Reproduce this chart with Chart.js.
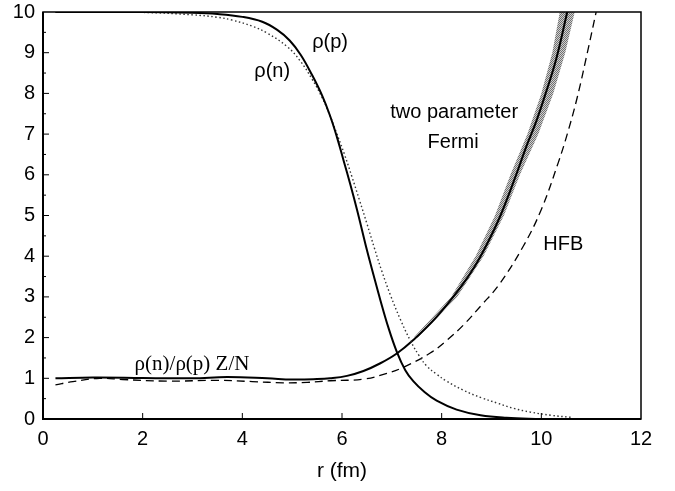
<!DOCTYPE html>
<html>
<head>
<meta charset="utf-8">
<script src="https://cdn.jsdelivr.net/npm/chart.js@4"></script>
<style>
  html, body { margin: 0; padding: 0; background: #fff; }
  #wrap { width: 675px; height: 491px; }
</style>
</head>
<body>
<div id="wrap"><canvas id="chart-density"></canvas></div>
<script>
// density of protons, rho(p)
const protonR   = [0.25, 2, 3, 3.5, 4, 4.4, 4.7, 4.95, 5.17, 5.4, 5.6, 5.76, 5.9, 6.03, 6.17, 6.3, 6.4, 6.5, 6.63, 6.77, 6.93, 7.1, 7.27, 7.43, 7.65, 7.9, 8.3, 8.78, 9.3, 10];
const protonRho = [10, 10, 9.98, 9.95, 9.88, 9.76, 9.56, 9.3, 8.95, 8.45, 7.95, 7.45, 6.92, 6.36, 5.75, 5.15, 4.65, 4.15, 3.55, 2.92, 2.25, 1.65, 1.2, 0.93, 0.67, 0.45, 0.23, 0.09, 0.03, 0];

// density of neutrons, rho(n)
const neutronR   = [0.25, 2, 3, 3.5, 3.8, 4.2, 4.5, 4.9, 5.16, 5.4, 5.6, 5.76, 5.9, 6.05, 6.2, 6.35, 6.5, 6.65, 6.8, 6.97, 7.17, 7.37, 7.55, 7.7, 7.9, 8.1, 8.43, 8.8, 9.12, 9.45, 9.78, 10.2, 10.6];
const neutronRho = [10, 9.99, 9.93, 9.87, 9.8, 9.65, 9.48, 9.15, 8.8, 8.35, 7.9, 7.45, 7.0, 6.5, 5.95, 5.38, 4.8, 4.2, 3.63, 3.05, 2.45, 1.93, 1.55, 1.3, 1.1, 0.93, 0.71, 0.52, 0.39, 0.26, 0.17, 0.09, 0.04];

// rho(n)/rho(p) Z/N, two parameter Fermi
const fermiR     = [0.25, 1, 2, 3, 3.7, 4.5, 5, 5.5, 5.76, 6.1, 6.43, 6.77, 7.1, 7.43, 7.9, 8.37, 8.65, 8.91, 9.18, 9.51, 9.7, 9.9, 10.1, 10.3, 10.52];
const fermiRatio = [1.0, 1.02, 1.01, 1.0, 1.03, 1.0, 0.97, 0.98, 1.0, 1.06, 1.18, 1.37, 1.61, 1.94, 2.51, 3.22, 3.72, 4.3, 5.0, 6.05, 6.7, 7.32, 8.05, 8.85, 10];

// error band of the Fermi ratio
const bandY     = [2, 3, 4, 5, 6, 7, 8, 9, 10];
const bandLeft  = [7.44, 8.19, 8.68, 9.07, 9.38, 9.72, 10.0, 10.22, 10.37];
const bandRight = [7.52, 8.31, 8.84, 9.25, 9.57, 9.94, 10.24, 10.48, 10.67];

// rho(n)/rho(p) Z/N, HFB
const hfbR     = [0.25, 0.6, 1.14, 1.6, 2.5, 3.5, 4.2, 4.82, 5.3, 5.76, 6.43, 6.9, 7.23, 7.77, 8.1, 8.43, 8.8, 9.15, 9.64, 10.0, 10.34, 10.52, 10.72, 10.95, 11.1];
const hfbRatio = [0.84, 0.92, 1.0, 0.97, 0.93, 0.95, 0.92, 0.89, 0.9, 0.94, 0.98, 1.12, 1.27, 1.62, 1.93, 2.3, 2.8, 3.3, 4.25, 5.15, 6.3, 7.0, 7.9, 9.15, 10];

const xTicks = [0, 2, 4, 6, 8, 10, 12];
const yTicks = [0, 1, 2, 3, 4, 5, 6, 7, 8, 9, 10];

// text written inside the plot: [text, r, value, font]
const notes = [
  ["\u03c1(p)", 5.76, 9.26, "sans"],
  ["\u03c1(n)", 4.6, 8.55, "sans"],
  ["two parameter", 8.25, 7.54, "sans"],
  ["Fermi", 8.23, 6.8, "sans"],
  ["HFB", 10.44, 4.28, "sans"],
  ["\u03c1(n)/\u03c1(p) Z/N", 2.99, 1.33, "serif"],
];

function pts(xs, ys) {
  return xs.map((x, i) => ({ x: x, y: ys[i] }));
}

const bandShape = pts(bandLeft, bandY).concat(pts(bandRight, bandY).reverse());

const SANS = "'Liberation Sans', Arial, sans-serif";
const SERIF = "'Liberation Serif', 'Times New Roman', serif";

// stippled grey for the error band
function stipple() {
  const c = document.createElement("canvas");
  c.width = 2;
  c.height = 2;
  const g = c.getContext("2d");
  g.fillStyle = "#d0d0d0";
  g.fillRect(0, 0, 2, 2);
  g.fillStyle = "#707070";
  g.fillRect(0, 0, 1, 1);
  g.fillRect(1, 1, 1, 1);
  return g.createPattern(c, "repeat");
}

// frame, inward tick marks and the curve labels
const framePlugin = {
  id: "frame",
  afterDraw(chart) {
    const ctx = chart.ctx;
    const a = chart.chartArea;
    const xs = chart.scales.x;
    const ys = chart.scales.y;
    ctx.save();
    ctx.strokeStyle = "#000";
    ctx.lineWidth = 1.5;
    ctx.strokeRect(a.left, a.top, a.right - a.left, a.bottom - a.top);
    ctx.lineWidth = 2;
    ctx.beginPath();
    ctx.moveTo(a.left, a.top);
    ctx.lineTo(a.left, a.bottom);
    ctx.lineTo(a.right, a.bottom);
    ctx.stroke();

    ctx.lineWidth = 1;
    ctx.beginPath();
    for (let v = 0.5; v < 10; v += 0.5) {
      const py = ys.getPixelForValue(v);
      const len = Number.isInteger(v) ? 6 : 3;
      ctx.moveTo(a.left, py);
      ctx.lineTo(a.left + len, py);
    }
    xTicks.forEach((v) => {
      if (v === 0 || v === 12) return;
      const px = xs.getPixelForValue(v);
      ctx.moveTo(px, a.bottom);
      ctx.lineTo(px, a.bottom - 6);
    });
    ctx.stroke();

    ctx.fillStyle = "#000";
    ctx.textAlign = "center";
    ctx.textBaseline = "middle";
    notes.forEach(([t, x, y, f]) => {
      ctx.font = f === "serif" ? "21px " + SERIF : "20px " + SANS;
      ctx.fillText(t, xs.getPixelForValue(x), ys.getPixelForValue(y));
    });
    ctx.restore();
  },
};

document.addEventListener("DOMContentLoaded", function () {
  const ctx = document.getElementById("chart-density").getContext("2d");

  new Chart(ctx, {
    type: "scatter",
    data: {
      datasets: [
        {
          label: "\u03c1(p)",
          data: pts(protonR, protonRho),
          showLine: true,
          borderColor: "#000",
          borderWidth: 2,
          pointRadius: 0,
          tension: 0.4,
          order: 1,
        },
        {
          label: "\u03c1(n)",
          data: pts(neutronR, neutronRho),
          showLine: true,
          borderColor: "#333",
          borderWidth: 1.4,
          borderDash: [1.5, 2.5],
          pointRadius: 0,
          tension: 0.4,
          order: 1,
        },
        {
          label: "two parameter Fermi",
          data: pts(fermiR, fermiRatio),
          showLine: true,
          borderColor: "#000",
          borderWidth: 2,
          pointRadius: 0,
          tension: 0.4,
          order: 1,
        },
        {
          label: "HFB",
          data: pts(hfbR, hfbRatio),
          showLine: true,
          borderColor: "#000",
          borderWidth: 1.3,
          borderDash: [8, 5],
          pointRadius: 0,
          tension: 0.4,
          order: 1,
        },
        {
          label: "band",
          data: bandShape,
          showLine: true,
          borderWidth: 0,
          borderColor: "rgba(0,0,0,0)",
          backgroundColor: stipple(),
          fill: "shape",
          pointRadius: 0,
          tension: 0,
          order: 5,
        },
      ],
    },
    options: {
      responsive: true,
      maintainAspectRatio: false,
      animation: false,
      layout: { padding: { left: 0, right: 34, top: 12, bottom: 0 } },
      plugins: {
        legend: { display: false },
        tooltip: { enabled: false },
      },
      scales: {
        x: {
          type: "linear",
          min: 0,
          max: 12,
          afterBuildTicks: (s) => { s.ticks = xTicks.map((v) => ({ value: v })); },
          afterFit: (s) => { s.height = 72; s.paddingLeft = 0; s.paddingRight = 0; },
          grid: { display: false, drawTicks: false },
          border: { display: false },
          ticks: { color: "#000", padding: 8, font: { family: SANS, size: 20 } },
          title: {
            display: true,
            text: "r (fm)",
            color: "#000",
            padding: { top: 0, bottom: 7 },
            font: { family: SANS, size: 21 },
          },
        },
        y: {
          type: "linear",
          min: 0,
          max: 10,
          afterBuildTicks: (s) => { s.ticks = yTicks.map((v) => ({ value: v })); },
          afterFit: (s) => { s.width = 43; s.paddingTop = 0; s.paddingBottom = 0; },
          grid: { display: false, drawTicks: false },
          border: { display: false },
          ticks: { color: "#000", padding: 8, font: { family: SANS, size: 20 } },
        },
      },
    },
    plugins: [framePlugin],
  });
});
</script>
</body>
</html>
